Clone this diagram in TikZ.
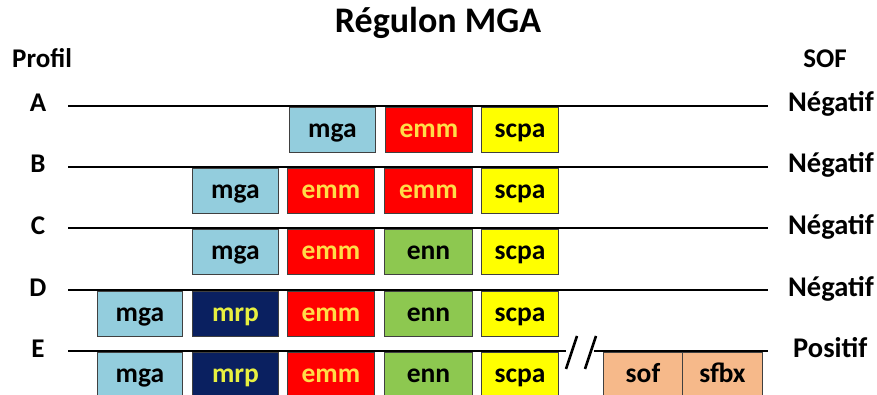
\documentclass[tikz,border=0pt]{standalone}
\usepackage{fontspec}
\setmainfont{Carlito}
\definecolor{cmga}{HTML}{93CDDD}
\definecolor{cemm}{HTML}{FF0000}
\definecolor{cemmtxt}{HTML}{FFDC48}
\definecolor{cmrp}{HTML}{0A2060}
\definecolor{cmrptxt}{HTML}{E8F040}
\definecolor{cenn}{HTML}{8DC850}
\definecolor{cscpa}{HTML}{FFFF00}
\definecolor{csof}{HTML}{F6B98A}
\definecolor{cedge}{HTML}{404040}
\tikzset{
  gbox/.style={draw=cedge, line width=0.9pt, anchor=north west, inner sep=0pt,
    minimum height=45pt, text height=20pt, text depth=5pt,
    font=\bfseries\fontsize{27.5}{27.5}\selectfont},
  mgabox/.style={gbox, fill=cmga, text=black, minimum width=86pt},
  emmbox/.style={gbox, fill=cemm, text=cemmtxt, minimum width=87pt},
  mrpbox/.style={gbox, fill=cmrp, text=cmrptxt, minimum width=86pt},
  ennbox/.style={gbox, fill=cenn, text=black, minimum width=88pt},
  scpabox/.style={gbox, fill=cscpa, text=black, minimum width=77pt},
  sofbox/.style={gbox, fill=csof, text=black},
  rail/.style={line width=2.8pt, black},
  lbl/.style={anchor=base, inner sep=0pt, font=\bfseries\fontsize{27}{27}\selectfont},
  rlbl/.style={anchor=base west, inner sep=0pt, font=\bfseries\fontsize{28.5}{28.5}\selectfont},
}
\begin{document}
\begin{tikzpicture}[x=1pt,y=-1pt]
\useasboundingbox (0,0) rectangle (877,395);
\clip (0,0) rectangle (877,395);
\fill[white] (0,0) rectangle (877,395);

% title and headers
\node[lbl, font=\bfseries\fontsize{36}{36}\selectfont] (title) at (438,33) {Régulon MGA};
\node[anchor=base west, inner sep=0pt, font=\bfseries\fontsize{27}{27}\selectfont] (profil) at (12,68) {Profil};
\node[lbl] (sof) at (825,68) {SOF};

% row A
\node[mgabox] (amga) at (289,107) {mga};
\node[emmbox] (aemm) at (385,107) {emm};
\node[scpabox] (ascpa) at (481,107) {scpa};
% row B
\node[mgabox] (bmga) at (192,168) {mga};
\node[emmbox] (bemm) at (287,168) {emm};
\node[emmbox, minimum width=88pt] (bemmb) at (384,168) {emm};
\node[scpabox] (bscpa) at (481,168) {scpa};
% row C
\node[mgabox] (cmga) at (192,229) {mga};
\node[emmbox] (cemm) at (287,229) {emm};
\node[ennbox] (cenn) at (384,229) {enn};
\node[scpabox] (cscpa) at (481,229) {scpa};
% row D
\node[mgabox, minimum width=85pt] (dmga) at (97,291) {mga};
\node[mrpbox] (dmrp) at (192,291) {mrp};
\node[emmbox] (demm) at (287,291) {emm};
\node[ennbox] (denn) at (384,291) {enn};
\node[scpabox] (dscpa) at (481,291) {scpa};
% row E
\node[mgabox, minimum width=85pt] (emga) at (97,352) {mga};
\node[mrpbox] (emrp) at (192,352) {mrp};
\node[emmbox] (eemm) at (287,352) {emm};
\node[ennbox] (eenn) at (384,352) {enn};
\node[scpabox] (escpa) at (481,352) {scpa};
\node[sofbox, minimum width=79pt] (esof) at (603,352) {sof};
\node[sofbox, minimum width=80pt] (esfbx) at (682,352) {sfbx};

% left letters
\node[lbl] (pA) at (38,112) {A};
\node[lbl] (pB) at (38,173) {B};
\node[lbl] (pC) at (38,234) {C};
\node[lbl] (pD) at (38,296) {D};
\node[lbl] (pE) at (38,357) {E};

% right labels
\node[rlbl] (sA) at (788,112) {Négatif};
\node[rlbl] (sB) at (788,173) {Négatif};
\node[rlbl] (sC) at (788,234) {Négatif};
\node[rlbl] (sD) at (788,296) {Négatif};
\node[rlbl] (sE) at (793,357) {Positif};

% rails
\coordinate (a1) at (68,106); \coordinate (a2) at (768,106);
\coordinate (b1) at (68,167); \coordinate (b2) at (768,167);
\coordinate (c1) at (68,228); \coordinate (c2) at (768,228);
\coordinate (d1) at (68,290); \coordinate (d2) at (768,290);
\coordinate (e1) at (68,351); \coordinate (e2) at (566,351);
\coordinate (e3) at (594,351); \coordinate (e4) at (768,351);
\draw[rail] (a1) -- (a2);
\draw[rail] (b1) -- (b2);
\draw[rail] (c1) -- (c2);
\draw[rail] (d1) -- (d2);
\draw[rail] (e1) -- (e2);
\draw[rail] (e3) -- (e4);
% break marks
\coordinate (s1a) at (566,369); \coordinate (s1b) at (577,336);
\coordinate (s2a) at (585,369); \coordinate (s2b) at (596,336);
\draw[line width=2.6pt] (s1a) -- (s1b);
\draw[line width=2.6pt] (s2a) -- (s2b);
\end{tikzpicture}
\end{document}
